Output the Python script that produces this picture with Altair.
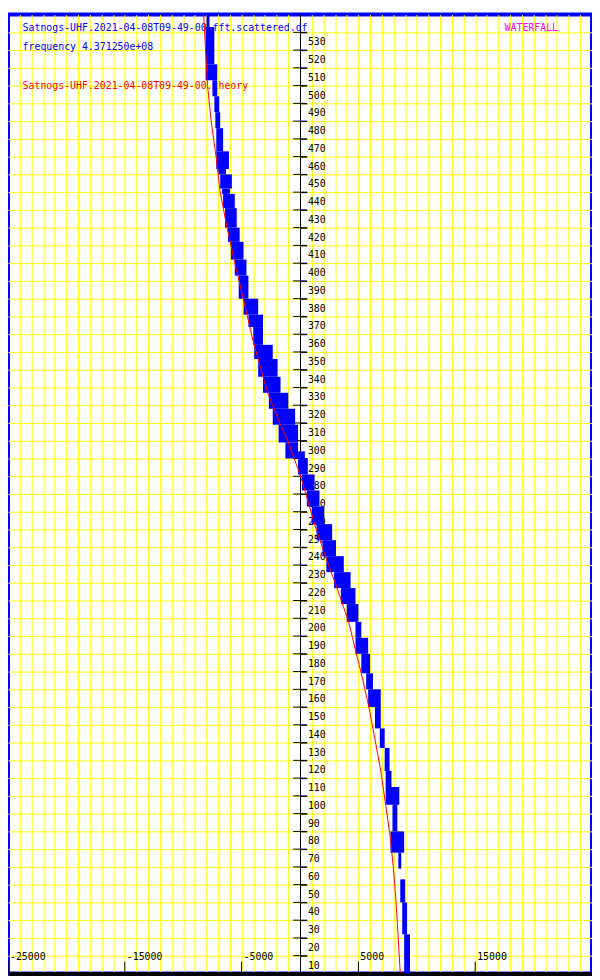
import altair as alt
import pandas as pd

# ---------------- texts ----------------
title_obs = "Satnogs-UHF.2021-04-08T09-49-00.fft.scattered.df"
title_freq = "frequency 4.371250e+08"
title_theory = "Satnogs-UHF.2021-04-08T09-49-00.theory"
title_mode = "WATERFALL"

# ---------------- axes ----------------
t_ticks = list(range(10, 540, 10))
f_label_values = [-25000, -15000, -5000, 5000, 15000]
f_label_text = ["-25000", "-15000", "-5000", "5000", "15000"]
f_grid = [v for v in range(-24000, 25000, 1000) if v != 0]

# ---------------- theory curve (red) ----------------
theory_t = [540, 533, 500, 479, 459, 441, 420, 401, 380, 358, 346, 327, 309, 301,
            290, 281, 272, 253, 235, 217, 198, 182, 169, 150, 132, 114, 95, 77,
            59, 40, 22, 0]
theory_f = [-8250, -8190, -7917, -7583, -7167, -6858, -6250, -5608, -4858, -4083,
            -3583, -2775, -1667, -1108, -500, 0, 417, 1250, 2167, 3167, 4167,
            4750, 5250, 5892, 6417, 6917, 7333, 7725, 8000, 8225, 8392, 8583]

# ---------------- observed trace (blue), blocks ----------------
obs_t_top = [540, 533, 512, 503, 494, 485, 476, 463, 453, 450, 442, 439, 431, 420,
             412, 402, 393, 380, 371, 364, 354, 346, 336, 327, 318, 309, 299, 294,
             290, 281, 272, 263, 253, 244, 235, 226, 217, 208, 198, 189, 180, 169,
             160, 150, 138, 127, 114, 105, 95, 80, 68, 53, 40, 22]
obs_t_bot = [533, 512, 503, 494, 485, 476, 463, 453, 450, 442, 439, 431, 420, 412,
             402, 393, 380, 371, 364, 354, 346, 336, 327, 318, 309, 299, 290, 285,
             281, 272, 263, 253, 244, 235, 226, 217, 208, 198, 189, 180, 169, 160,
             150, 138, 127, 114, 105, 95, 80, 68, 59, 40, 22, 0]
obs_f_lo = [-8000, -8083, -8083, -7500, -7333, -7250, -7167, -7167, -7000, -6833,
            -6667, -6583, -6417, -6167, -5917, -5583, -5250, -4833, -4417, -4000,
            -3917, -3583, -3167, -2667, -2333, -1833, -1250, -167, -167, 167, 583,
            1000, 1417, 1917, 2250, 2917, 3500, 4000, 4750, 4750, 5250, 5667, 5833,
            6417, 6833, 7250, 7333, 7333, 7917, 7750, 8417, 8583, 8750, 8917]
obs_f_hi = [-7750, -7333, -7083, -7083, -6917, -6833, -6583, -6083, -6333, -5833,
            -6000, -5583, -5417, -5167, -4833, -4583, -4417, -3583, -3167, -3167,
            -2333, -1917, -1667, -1000, -417, -167, -167, 417, 667, 1250, 1667,
            2083, 2750, 3083, 3750, 4333, 4750, 5000, 5250, 5833, 6000, 6250, 6917,
            6917, 7250, 7667, 7833, 8500, 8333, 8917, 8667, 9000, 9167, 9417]

W, H = 592, 972
FONT = "DejaVu Sans Mono"

xscale = alt.Scale(domain=[-25000, 25000], nice=False, zero=False)
yscale = alt.Scale(domain=[0, 540], nice=False, zero=False)

X_AXIS = alt.Axis(orient="bottom", values=f_grid, grid=True, gridColor="#FFFF00",
                  gridWidth=1, gridOpacity=1, labels=False, ticks=False,
                  domain=True, domainColor="black", domainWidth=4, title=None)
Y_AXIS = alt.Axis(orient="right", offset=-W / 2, values=t_ticks, grid=True,
                  gridColor="#FFFF00", gridWidth=1, gridOpacity=1,
                  domain=True, domainColor="black", domainWidth=1,
                  ticks=True, tickColor="black", tickSize=7, tickWidth=1,
                  labels=True, labelColor="black", labelFont=FONT, labelFontSize=10,
                  labelAlign="left", labelBaseline="alphabetic", labelOffset=12.7,
                  labelPadding=0.5, labelOverlap=False, labelFlush=False, title=None)


def X(field):
    return alt.X(field, scale=xscale, axis=X_AXIS)


def Y(field):
    return alt.Y(field, scale=yscale, axis=Y_AXIS)


def header(txt, px, py, color):
    return alt.Chart(pd.DataFrame({"txt": [txt]})).mark_text(
        align="left", baseline="alphabetic", font=FONT, fontSize=10, color=color
    ).encode(x=alt.value(px), y=alt.value(py), text="txt:N")


h1 = header(title_obs, 14.8, 17.1, "#0000FF")
h2 = header(title_freq, 14.8, 36.2, "#0000FF")
h3 = header(title_theory, 14.8, 75.0, "#FF0000")
h4 = header(title_mode, 503.4, 17.1, "#FF00FF")

ticks_df = pd.DataFrame({"t": t_ticks, "f0": [0] * len(t_ticks)})
yticks = alt.Chart(ticks_df).mark_tick(
    orient="horizontal", size=14, thickness=1, color="black", opacity=1
).encode(x=X("f0:Q"), y=Y("t:Q"))

xlab_df = pd.DataFrame({"f": f_label_values, "label": f_label_text})
xticks = alt.Chart(xlab_df).mark_rule(color="black", strokeWidth=1).encode(
    x=X("f:Q"), y=alt.value(960), y2=alt.value(972))
xlabels = alt.Chart(xlab_df).mark_text(
    align="left", baseline="alphabetic", dx=2, font=FONT, fontSize=10, color="black"
).encode(x=X("f:Q"), y=alt.value(958.8), text="label:N")

obs_df = pd.DataFrame({"t_top": obs_t_top, "t_bot": obs_t_bot,
                       "f_lo": obs_f_lo, "f_hi": obs_f_hi})
blue = alt.Chart(obs_df).mark_rect(color="#0000FF", opacity=1).encode(
    x=X("f_lo:Q"), x2="f_hi:Q", y=Y("t_top:Q"), y2="t_bot:Q")

theory_df = pd.DataFrame({"t": theory_t, "f": theory_f, "i": list(range(len(theory_t)))})
red = alt.Chart(theory_df).mark_line(color="#FF0000", strokeWidth=1).encode(
    x=X("f:Q"), y=Y("t:Q"), order="i:Q")

chart = alt.layer(h1, h2, h3, h4, yticks, xticks, xlabels, blue, red).properties(
    width=W, height=H, padding=0,
    autosize=alt.AutoSizeParams(type="none"), background="white"
).configure_view(stroke="#0000FF", strokeWidth=4)

chart.save("out.html", embed_options={"renderer": "svg", "actions": False})
